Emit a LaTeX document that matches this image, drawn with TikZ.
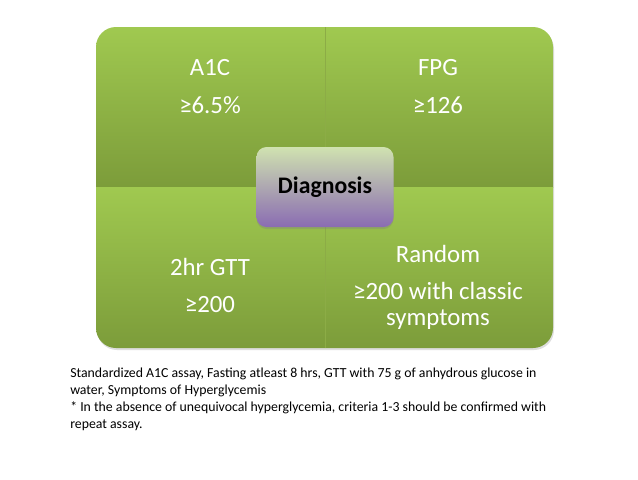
\documentclass[tikz,border=0pt]{standalone}
\usepackage{fontspec}
\setmainfont{Carlito}
\usetikzlibrary{shadows}
\definecolor{gtop}{RGB}{160,201,80}
\definecolor{gbot}{RGB}{124,156,58}
\definecolor{dtop}{RGB}{208,226,176}
\definecolor{dbot}{RGB}{138,108,178}
\definecolor{divline}{RGB}{140,172,70}
\tikzset{
  quad/.style={top color=gtop, bottom color=gbot},
  qtext/.style={text=white, font=\fontsize{18.6pt}{22pt}\selectfont, anchor=base, inner sep=0pt},
  diag/.style={rounded corners=7.5pt, top color=dtop, bottom color=dbot, minimum width=102.75pt, minimum height=60pt,
    font=\bfseries\fontsize{17.8pt}{21pt}\selectfont, text=black,
    drop shadow={opacity=0.35, shadow xshift=0pt, shadow yshift=-1.5pt}},
  note/.style={align=left, anchor=north west, inner sep=0pt, font=\fontsize{10.35pt}{12.75pt}\selectfont, text=black}
}
\begin{document}
\begin{tikzpicture}[x=0.75pt,y=-0.75pt]
\useasboundingbox (0,0) rectangle (638,479);
\fill[white] (0,0) rectangle (638,479);
% outer shadow
\fill[black!25, rounded corners=15pt, opacity=0.5] (97,29) rectangle (554,350);
\begin{scope}
\clip[rounded corners=15pt] (96,27) rectangle (553,348);
\shade[quad] (96,27) rectangle (325,187);
\shade[quad] (325,27) rectangle (553,187);
\shade[quad] (96,187) rectangle (325,348);
\shade[quad] (325,187) rectangle (553,348);
\draw[divline, line width=0.5pt] (325,27) -- (325,348);
\end{scope}
% quadrant texts
\node[qtext] (a1c) at (210,75.5) {A1C};
\node[qtext] (a1cv) at (210,113) {≥6.5\%};
\node[qtext] (fpg) at (438,75.5) {FPG};
\node[qtext] (fpgv) at (438,113) {≥126};
\node[qtext] (gtt) at (210,275.5) {2hr GTT};
\node[qtext] (gttv) at (210,312.5) {≥200};
\node[qtext] (rnd) at (438,262) {Random};
\node[qtext] (rndv) at (438,299) {≥200 with classic};
\node[qtext] (rndv2) at (438,325) {symptoms};
% center
\node[diag] (diag) at (325,187) {Diagnosis};
% note
\node[note] (note) at (70,368) {Standardized A1C assay, Fasting atleast 8 hrs, GTT with 75 g of anhydrous glucose in\\
water, Symptoms of Hyperglycemis\\
* In the absence of unequivocal hyperglycemia, criteria 1-3 should be confirmed with\\
repeat assay.};
\end{tikzpicture}
\end{document}
